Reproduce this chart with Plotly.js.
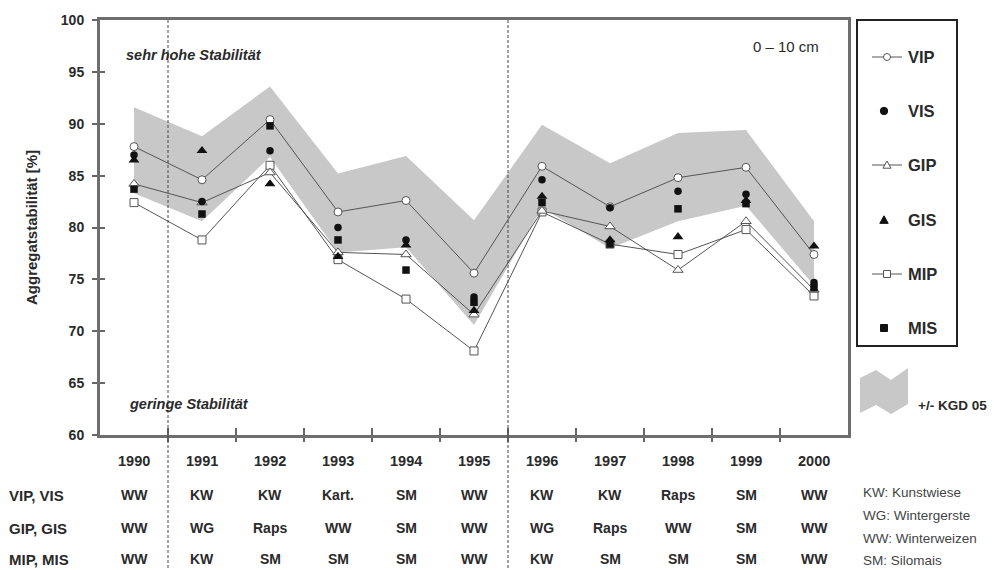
<!DOCTYPE html>
<html>
<head>
<meta charset="utf-8">
<script src="https://cdn.plot.ly/plotly-3.0.1.min.js"></script>
<style>html,body{margin:0;padding:0;background:#fff;}#chart{width:994px;height:570px;}</style>
</head>
<body>
<div id="chart"></div>
<script>
// ---- data ----
const years = [1990, 1991, 1992, 1993, 1994, 1995, 1996, 1997, 1998, 1999, 2000];
const VIP = [87.8, 84.6, 90.4, 81.5, 82.6, 75.6, 85.9, 82.0, 84.8, 85.8, 77.4];
const VIS = [87.0, 82.5, 87.4, 80.0, 78.8, 73.3, 84.6, 81.9, 83.5, 83.2, 74.7];
const GIP = [84.2, 82.4, 85.3, 77.6, 77.4, 71.6, 81.6, 80.1, 75.9, 80.6, 74.0];
const GIS = [86.5, 87.4, 84.2, 77.2, 78.3, 72.0, 83.0, 78.8, 79.1, 82.6, 78.2];
const MIP = [82.4, 78.8, 86.0, 76.9, 73.1, 68.1, 81.5, 78.4, 77.4, 79.8, 73.4];
const MIS = [83.7, 81.3, 89.8, 78.8, 75.9, 72.8, 82.4, 78.4, 81.8, 82.3, 74.2];
const kgdUpper = [91.6, 88.8, 93.6, 85.2, 86.9, 80.7, 89.9, 86.2, 89.1, 89.4, 80.6];
const kgdLower = [83.3, 80.6, 86.8, 77.6, 78.1, 70.6, 81.9, 78.0, 80.6, 82.1, 74.4];
const yTicks = [60, 65, 70, 75, 80, 85, 90, 95, 100];
const rowLabels = ['VIP, VIS', 'GIP, GIS', 'MIP, MIS'];
const cropsV = ['WW', 'KW', 'KW', 'Kart.', 'SM', 'WW', 'KW', 'KW', 'Raps', 'SM', 'WW'];
const cropsG = ['WW', 'WG', 'Raps', 'WW', 'SM', 'WW', 'WG', 'Raps', 'WW', 'SM', 'WW'];
const cropsM = ['WW', 'KW', 'SM', 'SM', 'SM', 'WW', 'KW', 'SM', 'SM', 'SM', 'WW'];
const footnotes = ['KW: Kunstwiese', 'WG: Wintergerste', 'WW: Winterweizen', 'SM: Silomais'];
const separators = [1990.5, 1995.5];
const legendNames = ['VIP', 'VIS', 'GIP', 'GIS', 'MIP', 'MIS'];

// ---- geometry helpers (layout only) ----
const L = 100, R = 848, T = 20, B = 435;
const px = x => (x - L) / (R - L);
const py = y => (B - y) / (B - T);
const FONT = 'Liberation Sans, Arial, sans-serif';
const TXT = '#2a2a2a';
const boundaries = years.slice(0, -1).map(y => y + 0.5);

const openMk = (sym, size) => ({symbol: sym, size: size, color: '#ffffff', line: {color: '#555', width: 1}});
const fillMk = (sym, size) => ({symbol: sym, size: size, color: '#111111', line: {width: 0}});
const lineSt = {color: '#555', width: 1};

const traces = [
  {x: years.concat(years.slice().reverse()), y: kgdUpper.concat(kgdLower.slice().reverse()),
   fill: 'toself', fillcolor: '#c8c8c8', mode: 'lines', line: {width: 0}, name: '+/- KGD 05', hoverinfo: 'skip'},
  {x: years, y: MIP, mode: 'lines+markers', name: 'MIP', line: lineSt, marker: openMk('square', 8)},
  {x: years, y: GIP, mode: 'lines+markers', name: 'GIP', line: lineSt, marker: openMk('triangle-up', 9)},
  {x: years, y: VIP, mode: 'lines+markers', name: 'VIP', line: lineSt, marker: openMk('circle', 8)},
  {x: years, y: MIS, mode: 'markers', name: 'MIS', marker: fillMk('square', 7.5)},
  {x: years, y: GIS, mode: 'markers', name: 'GIS', marker: fillMk('triangle-up', 9.5)},
  {x: years, y: VIS, mode: 'markers', name: 'VIS', marker: fillMk('circle', 7.5)},
  {x: [], y: [], xaxis: 'x2', yaxis: 'y2', mode: 'markers', hoverinfo: 'skip', showlegend: false}
];

const annotations = [];
const ann = (o) => annotations.push(Object.assign({showarrow: false, font: {family: FONT, size: 13, color: TXT, weight: 'bold'}}, o));

// stability notes
ann({text: 'sehr hohe Stabilität', xref: 'paper', yref: 'paper', x: px(124), y: py(55), xanchor: 'left', yanchor: 'middle',
     font: {family: FONT, size: 14.5, color: TXT, weight: 'bold', style: 'italic'}});
ann({text: 'geringe Stabilität', xref: 'paper', yref: 'paper', x: px(127), y: py(404), xanchor: 'left', yanchor: 'middle',
     font: {family: FONT, size: 14.5, color: TXT, weight: 'bold', style: 'italic'}});
ann({text: '0 – 10 cm', xref: 'paper', yref: 'paper', x: px(751), y: py(46), xanchor: 'left', yanchor: 'middle',
     font: {family: FONT, size: 15, color: TXT, weight: 'normal'}});

// years row + crop table
const rowY = [495, 528, 559];
years.forEach((yr, i) => {
  ann({text: String(yr), xref: 'x', yref: 'paper', x: yr, y: py(461), xanchor: 'center', yanchor: 'middle', font: {family: FONT, size: 14.5, color: TXT, weight: 'bold'}});
  [cropsV, cropsG, cropsM].forEach((row, r) => {
    ann({text: row[i], xref: 'x', yref: 'paper', x: yr, y: py(rowY[r]), xanchor: 'center', yanchor: 'middle',
         font: {family: FONT, size: 14, color: TXT, weight: 'bold'}});
  });
});
rowLabels.forEach((lab, r) => {
  ann({text: lab, xref: 'paper', yref: 'paper', x: px(7), y: py(rowY[r]), xanchor: 'left', yanchor: 'middle',
       font: {family: FONT, size: 15, color: TXT, weight: 'bold'}});
});
footnotes.forEach((f, k) => {
  ann({text: f, xref: 'paper', yref: 'paper', x: px(861), y: py([492, 515, 538, 560][k]), xanchor: 'left', yanchor: 'middle',
       font: {family: FONT, size: 13.5, color: '#444', weight: 'normal'}});
});

// manual legend
const legY = [57, 111, 165, 220, 274, 328];
legendNames.forEach((n, k) => {
  ann({text: n, xref: 'paper', yref: 'paper', x: px(906), y: py(legY[k]), xanchor: 'left', yanchor: 'middle',
       font: {family: FONT, size: 16.5, color: TXT, weight: 'bold'}});
});
ann({text: '+/- KGD 05', xref: 'paper', yref: 'paper', x: px(916), y: py(405), xanchor: 'left', yanchor: 'middle',
     font: {family: FONT, size: 13.5, color: TXT, weight: 'bold'}});

const shapes = [];
separators.forEach(s => shapes.push({type: 'line', xref: 'x', yref: 'paper', x0: s, x1: s, y0: 1, y1: py(570),
  line: {color: '#444', width: 1, dash: '3px,2px'}, layer: 'above'}));
// legend box
shapes.push({type: 'rect', xref: 'paper', yref: 'paper', x0: px(857), x1: px(957), y0: py(20), y1: py(346),
  line: {color: '#222', width: 2}, fillcolor: 'rgba(0,0,0,0)'});
const P = (x, y) => px(x) + ',' + py(y);
const symCircle = (cx, cy, r, fill) => shapes.push({type: 'circle', xref: 'paper', yref: 'paper', x0: px(cx - r), x1: px(cx + r), y0: py(cy + r), y1: py(cy - r),
  fillcolor: fill, line: {color: fill === '#ffffff' ? '#555' : '#111', width: 1}});
const symSquare = (cx, cy, r, fill) => shapes.push({type: 'rect', xref: 'paper', yref: 'paper', x0: px(cx - r), x1: px(cx + r), y0: py(cy + r), y1: py(cy - r),
  fillcolor: fill, line: {color: fill === '#ffffff' ? '#555' : '#111', width: 1}});
const symTri = (cx, cy, r, fill) => shapes.push({type: 'path', xref: 'paper', yref: 'paper',
  path: 'M' + P(cx - r, cy + r * 0.8) + 'L' + P(cx + r, cy + r * 0.8) + 'L' + P(cx, cy - r) + 'Z',
  fillcolor: fill, line: {color: fill === '#ffffff' ? '#555' : '#111', width: 1}});
const segment = (cy) => shapes.push({type: 'line', xref: 'paper', yref: 'paper', x0: px(872), x1: px(902), y0: py(cy), y1: py(cy), line: {color: '#555', width: 1}});
segment(legY[0]); symCircle(887, legY[0], 3.5, '#ffffff');
symCircle(884, legY[1], 3.7, '#111');
segment(legY[2]); symTri(887, legY[2], 4, '#ffffff');
symTri(884, legY[3], 4.2, '#111');
segment(legY[4]); symSquare(887, legY[4], 3.5, '#ffffff');
symSquare(884, legY[5], 3.5, '#111');
// KGD legend flag
shapes.push({type: 'path', xref: 'paper', yref: 'paper',
  path: 'M' + P(860, 378) + 'L' + P(876, 370) + 'L' + P(891, 380) + 'L' + P(908, 368) + 'L' + P(908, 404) + 'L' + P(891, 414) + 'L' + P(876, 405) + 'L' + P(860, 413) + 'Z',
  fillcolor: '#c8c8c8', line: {width: 0}});

const axisCommon = {range: [1989.5, 2000.5], tickvals: boundaries, showticklabels: false, showgrid: false, zeroline: false};
const layout = {
  width: 994, height: 570,
  margin: {l: L, r: 994 - R, t: T, b: 570 - B, pad: 0},
  paper_bgcolor: '#ffffff', plot_bgcolor: '#ffffff',
  showlegend: false,
  font: {family: FONT, color: TXT},
  xaxis: Object.assign({}, axisCommon, {ticks: 'outside', ticklen: 4, tickcolor: '#666', tickwidth: 2,
    showline: true, linecolor: '#6e6e6e', linewidth: 3, mirror: true}),
  xaxis2: Object.assign({}, axisCommon, {overlaying: 'x', anchor: 'y', side: 'bottom', ticks: 'inside', ticklen: 7, tickcolor: '#666', tickwidth: 2, showline: false}),
  yaxis: {range: [60, 100], tickvals: yTicks, ticktext: yTicks.map(String), ticks: 'outside', ticklen: 5, tickcolor: '#666', tickwidth: 2,
    showline: true, linecolor: '#6e6e6e', linewidth: 3, mirror: true, showgrid: false, zeroline: false,
    tickfont: {family: FONT, size: 14, color: TXT, weight: 'bold'}, ticklabelstandoff: 5,
    title: {text: 'Aggregatstabilität [%]', font: {family: FONT, size: 15, color: TXT, weight: 'bold'}, standoff: 20}},
  yaxis2: {range: [60, 100], tickvals: yTicks, overlaying: 'y', anchor: 'x', side: 'left', ticks: 'inside', ticklen: 5, tickcolor: '#666', tickwidth: 2,
    showticklabels: false, showline: false, showgrid: false, zeroline: false},
  annotations: annotations,
  shapes: shapes
};

Plotly.newPlot('chart', traces, layout, {displayModeBar: false, staticPlot: true});
</script>
</body>
</html>
